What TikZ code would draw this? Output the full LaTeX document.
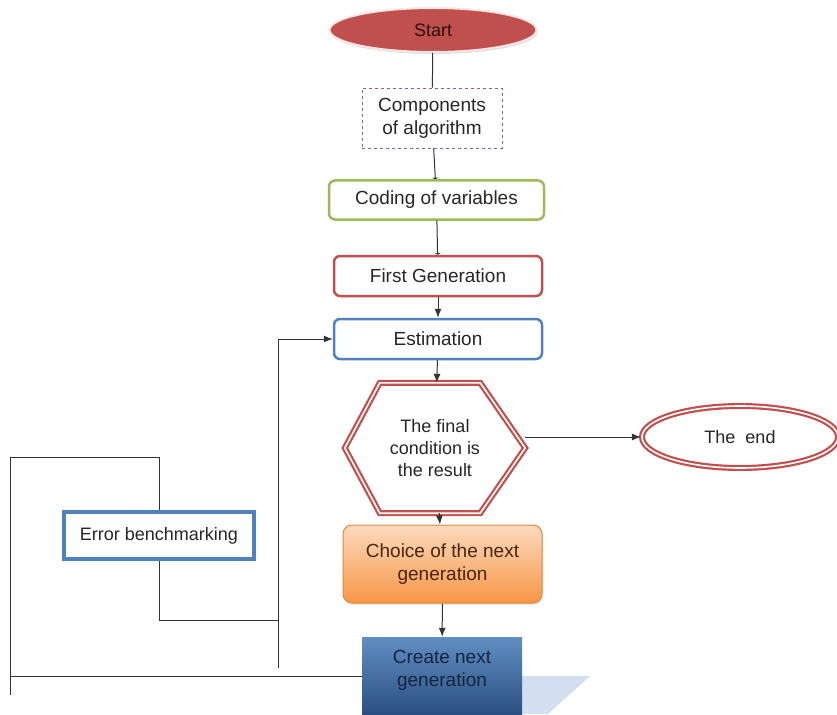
\documentclass[tikz,border=0pt]{standalone}
\usepackage{fontspec}
\setmainfont{Liberation Sans}
\usepackage{tikz}
\usetikzlibrary{shapes,arrows.meta,positioning,calc,shadows}
\definecolor{gaRed}{HTML}{C0504D}
\definecolor{gaGreen}{HTML}{9BBB59}
\definecolor{gaBlue}{HTML}{4F81BD}
\definecolor{gaNavy}{HTML}{2B4F80}
\definecolor{gaInk}{HTML}{13243F}
\definecolor{gaPurple}{HTML}{8064A2}
\definecolor{gaOrange}{HTML}{F79646}
\definecolor{gaBrown}{HTML}{4A2410}
\definecolor{gaLine}{HTML}{333333}
\tikzset{
    gaBoxBase/.style={
        rectangle,
        draw,
        line width=2.5pt,
        rounded corners=6pt,
        align=center,
        text=black!85,
        font=\fontsize{19}{23}\selectfont
    },
    % Shape variants
    gaStart/.style={ellipse, fill=gaRed, draw=gaRed!15, line width=2pt,
        minimum width=207pt, minimum height=44pt, text=black!80!gaRed,
        font=\fontsize{18}{22}\selectfont,
        drop shadow={opacity=0.25, shadow xshift=1pt, shadow yshift=-2pt}},
    gaDashed/.style={gaBoxBase, draw=gaPurple, dashed, line width=0.8pt, rounded corners=0pt},
    gaGreenBox/.style={gaBoxBase, draw=gaGreen},
    gaRedBox/.style={gaBoxBase, draw=gaRed},
    gaBlueBox/.style={gaBoxBase, draw=gaBlue},
    gaDouble/.style={draw=gaRed, double=white, line width=2.2pt, double distance=1.6pt},
    gaEnd/.style={ellipse, gaDouble, minimum width=196pt, minimum height=62pt,
        text=black!85, font=\fontsize{18}{22}\selectfont},
    gaOrangeBox/.style={gaBoxBase, draw=gaOrange!90!black, line width=1pt, rounded corners=9pt,
        top color=gaOrange!35, bottom color=gaOrange, text=gaBrown,
        drop shadow={opacity=0.2, shadow xshift=1pt, shadow yshift=-2pt}},
    gaCreate/.style={rectangle, align=center, top color=gaBlue!90, bottom color=gaNavy,
        text=gaInk, font=\fontsize{19}{23}\selectfont},
    gaErrorBox/.style={gaBoxBase, draw=gaBlue, line width=3.5pt, rounded corners=0pt,
        font=\fontsize{18}{22}\selectfont},
    % Connectors
    gaLink/.style={draw=gaLine, line width=1pt},
    gaArrow/.style={gaLink, -{Latex[length=9pt,width=7pt]}},
    gaTick/.style={gaLink, -{Latex[length=1.5pt,width=7pt]}}
}
\begin{document}
\begin{tikzpicture}[x=1pt, y=-1pt]
    \useasboundingbox (0,0) rectangle (837,714);

    % shadow of the last box
    \fill[gaBlue!25] (522,676) -- (590,676) -- (548,714) -- (522,714) -- cycle;

    % Main column
    \node[gaStart] (start) at (433,30) {Start};
    \node[gaDashed, minimum width=140pt, minimum height=60pt] (comp) at (432,118) {Components\\of algorithm};
    \node[gaGreenBox, minimum width=215pt, minimum height=39pt] (coding) at (436.5,200) {Coding of variables};
    \node[gaRedBox, minimum width=208pt, minimum height=40pt] (first) at (438,276) {First Generation};
    \node[gaBlueBox, minimum width=208pt, minimum height=40pt] (est) at (438,339) {Estimation};

    % Condition (hexagon drawn round the node)
    \node[align=center, minimum width=180pt, minimum height=130pt, text=black!85,
        font=\fontsize{18}{22}\selectfont] (cond) at (435,448) {The final\\condition is\\the result};
    \draw[gaDouble, line join=miter]
        (cond.west) -- ($(cond.north west)+(35,0)$) -- ($(cond.north east)+(-45,0)$)
        -- (cond.east) -- ($(cond.south east)+(-45,0)$) -- ($(cond.south west)+(35,0)$) -- cycle;

    \node[gaEnd] (end) at (740,437) {The\ \ end};
    \node[gaOrangeBox, minimum width=199pt, minimum height=78pt] (choice) at (442.5,564) {Choice of the next\\generation};
    \node[gaCreate, minimum width=160pt, minimum height=78pt] (create) at (442,676) {Create next\\generation\\[-7pt]};
    \node[gaErrorBox, minimum width=190pt, minimum height=47pt] (error) at (159,535.5) {Error benchmarking};

    % Connections
    \draw[gaLink] (start) -- (comp);
    \draw[gaTick] (comp) -- (coding);
    \draw[gaTick] (coding) -- (first);
    \draw[gaArrow] (first) -- (est);
    \draw[gaArrow] (est) -- (cond);
    \draw[gaArrow] (cond) -- (choice);
    \draw[gaArrow] (choice) -- (create);
    \draw[gaArrow] (end.west -| cond.east) -- (end.west);

    % Feedback loop
    \coordinate (loopBL) at (10,695);
    \coordinate (loopTL) at (10,457);
    \coordinate (loopJoin) at (278,620);
    \coordinate (loopBR) at (278,668);
    \draw[gaLink] (create.west) -- (create.west -| loopBL);
    \draw[gaLink] (loopBL) -- (loopTL) -| (error.north);
    \draw[gaLink] (error.south) |- (loopJoin);
    \draw[gaArrow] (loopBR) |- (est.west);
\end{tikzpicture}
\end{document}
